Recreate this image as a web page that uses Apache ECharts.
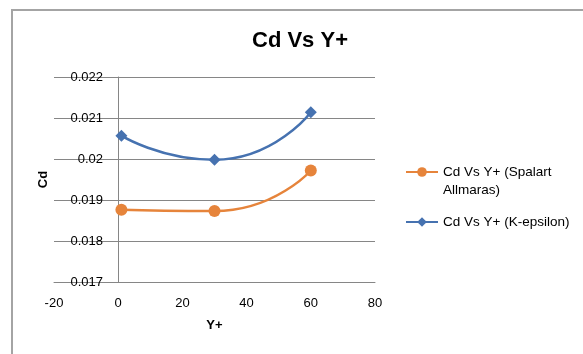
<!DOCTYPE html>
<html>
<head>
<meta charset="utf-8">
<script src="https://cdn.jsdelivr.net/npm/echarts@6/dist/echarts.min.js"></script>
<style>
html,body{margin:0;padding:0;background:#fff;overflow:hidden;}
#frame{position:absolute;left:11px;top:9px;width:600px;height:400px;border:2px solid #a4a4a4;box-sizing:border-box;}
#chart{position:absolute;left:0;top:0;width:583px;height:354px;}
</style>
</head>
<body>
<div id="frame"></div>
<div id="chart"></div>
<script>
var titleText = 'Cd Vs Y+';
var xName = 'Y+';
var yName = 'Cd';
var seriesNames = ['Cd Vs Y+ (Spalart Allmaras)', 'Cd Vs Y+ (K-epsilon)'];
var yPlus = [1, 30, 60];
var cdSpalart = [0.01876, 0.01873, 0.01972];
var cdKeps = [0.02057, 0.01998, 0.02114];
var xTicks = { min: -20, max: 80, step: 20 };
var yTicks = { min: 0.017, max: 0.022, step: 0.001 };

function pairs(xs, ys) { return xs.map(function (x, i) { return [x, ys[i]]; }); }

var FONT = 'Liberation Sans';
var chart = echarts.init(document.getElementById('chart'), null, { renderer: 'canvas' });
chart.setOption({
  animation: false,
  backgroundColor: 'transparent',
  textStyle: { fontFamily: FONT },
  title: {
    text: titleText, left: 295, top: 25, textAlign: 'center',
    textStyle: { fontFamily: FONT, fontSize: 22, fontWeight: 'bold', color: '#000' }
  },
  grid: { left: 54, right: 208, top: 77, bottom: 72, containLabel: false, outerBoundsMode: 'none' },
  legend: [
    {
      data: [seriesNames[0]], left: 405, top: 145, orient: 'vertical', padding: 0,
      itemWidth: 32, itemHeight: 12,
      formatter: function () { return '\nCd Vs Y+ (Spalart\nAllmaras)'; },
      textStyle: { fontFamily: FONT, fontSize: 13.5, color: '#000', lineHeight: 18 }
    },
    {
      data: [seriesNames[1]], left: 405, top: 213, orient: 'vertical', padding: 0,
      itemWidth: 32, itemHeight: 12,
      textStyle: { fontFamily: FONT, fontSize: 13.5, color: '#000', lineHeight: 18 }
    }
  ],
  xAxis: {
    type: 'value', min: xTicks.min, max: xTicks.max, interval: xTicks.step,
    name: xName, nameLocation: 'middle', nameGap: 37,
    nameTextStyle: { fontFamily: FONT, fontSize: 13, fontWeight: 'bold', color: '#000' },
    axisLine: { show: true, lineStyle: { color: '#868686', width: 1 } },
    axisTick: { show: false },
    splitLine: { show: false },
    axisLabel: { fontFamily: FONT, fontSize: 13, color: '#000', margin: 15 }
  },
  yAxis: {
    type: 'value', min: yTicks.min, max: yTicks.max, interval: yTicks.step,
    offset: -64,
    name: yName, nameLocation: 'middle', nameGap: 68, nameRotate: 90,
    nameTextStyle: { fontFamily: FONT, fontSize: 13, fontWeight: 'bold', color: '#000' },
    axisLine: { show: true, onZero: false, lineStyle: { color: '#868686', width: 1 } },
    axisTick: { show: false },
    splitLine: { show: true, lineStyle: { color: '#868686', width: 1 } },
    axisLabel: {
      fontFamily: FONT, fontSize: 13, color: '#000', margin: 15,
      formatter: function (v) { return String(parseFloat(v.toFixed(3))); }
    }
  },
  series: [
    {
      name: seriesNames[0], type: 'line', smooth: 0.6,
      data: pairs(yPlus, cdSpalart),
      symbol: 'circle', symbolSize: 12,
      lineStyle: { color: '#E6843B', width: 2.5 },
      itemStyle: { color: '#E6843B' }
    },
    {
      name: seriesNames[1], type: 'line', smooth: 0.6,
      data: pairs(yPlus, cdKeps),
      symbol: 'diamond', symbolSize: 12,
      lineStyle: { color: '#4672B0', width: 2.5 },
      itemStyle: { color: '#4672B0' }
    }
  ]
});
</script>
</body>
</html>
